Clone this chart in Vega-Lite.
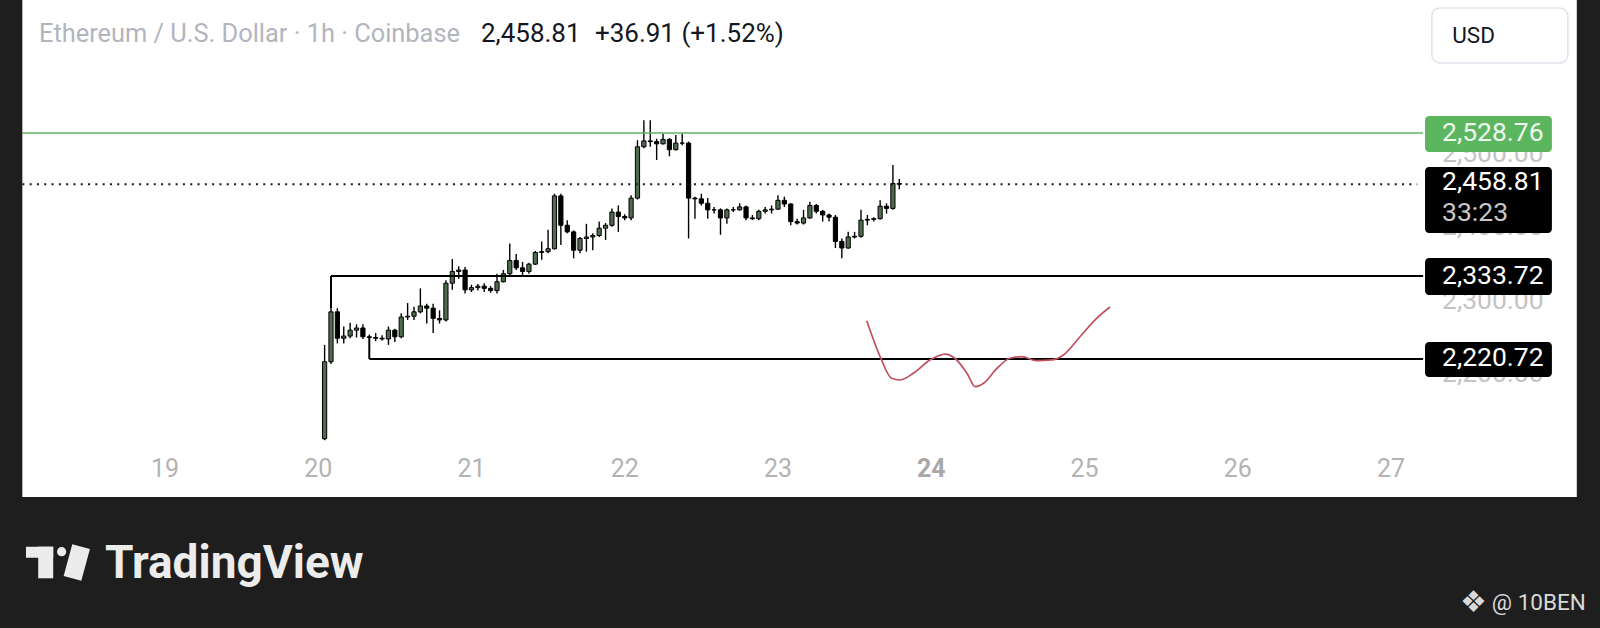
{
  "$schema": "https://vega.github.io/schema/vega-lite/v6.json",
  "description": "Ethereum / U.S. Dollar, 1h candles, Coinbase (TradingView snapshot)",
  "width": 1600,
  "height": 628,
  "autosize": {"type": "fit", "contains": "padding"},
  "padding": 0,
  "background": "#ffffff",
  "config": {"view": {"stroke": null, "fill": "#ffffff"}, "font": "Roboto"},
  "datasets": {
    "candles": [
      {"t": "2024-11-20T01:00:00Z", "o": 2112, "h": 2240, "l": 2110, "c": 2217},
      {"t": "2024-11-20T02:00:00Z", "o": 2217, "h": 2290, "l": 2214, "c": 2285},
      {"t": "2024-11-20T03:00:00Z", "o": 2285, "h": 2290, "l": 2242, "c": 2249},
      {"t": "2024-11-20T04:00:00Z", "o": 2249, "h": 2265, "l": 2242, "c": 2252},
      {"t": "2024-11-20T05:00:00Z", "o": 2252, "h": 2270, "l": 2249, "c": 2260},
      {"t": "2024-11-20T06:00:00Z", "o": 2260, "h": 2268, "l": 2250, "c": 2263},
      {"t": "2024-11-20T07:00:00Z", "o": 2263, "h": 2268, "l": 2248, "c": 2251},
      {"t": "2024-11-20T08:00:00Z", "o": 2251, "h": 2254, "l": 2249, "c": 2250},
      {"t": "2024-11-20T09:00:00Z", "o": 2250, "h": 2256, "l": 2245, "c": 2249},
      {"t": "2024-11-20T10:00:00Z", "o": 2249, "h": 2253, "l": 2246, "c": 2248},
      {"t": "2024-11-20T11:00:00Z", "o": 2248, "h": 2265, "l": 2240, "c": 2260},
      {"t": "2024-11-20T12:00:00Z", "o": 2260, "h": 2262, "l": 2244, "c": 2251},
      {"t": "2024-11-20T13:00:00Z", "o": 2251, "h": 2283, "l": 2249, "c": 2278},
      {"t": "2024-11-20T14:00:00Z", "o": 2278, "h": 2297, "l": 2274, "c": 2279},
      {"t": "2024-11-20T15:00:00Z", "o": 2279, "h": 2292, "l": 2274, "c": 2285},
      {"t": "2024-11-20T16:00:00Z", "o": 2285, "h": 2317, "l": 2283, "c": 2293},
      {"t": "2024-11-20T17:00:00Z", "o": 2293, "h": 2296, "l": 2269, "c": 2290},
      {"t": "2024-11-20T18:00:00Z", "o": 2290, "h": 2296, "l": 2256, "c": 2276},
      {"t": "2024-11-20T19:00:00Z", "o": 2276, "h": 2287, "l": 2269, "c": 2274},
      {"t": "2024-11-20T20:00:00Z", "o": 2274, "h": 2328, "l": 2272, "c": 2324},
      {"t": "2024-11-20T21:00:00Z", "o": 2324, "h": 2357, "l": 2315, "c": 2340},
      {"t": "2024-11-20T22:00:00Z", "o": 2340, "h": 2347, "l": 2330, "c": 2342},
      {"t": "2024-11-20T23:00:00Z", "o": 2342, "h": 2346, "l": 2310, "c": 2315},
      {"t": "2024-11-21T00:00:00Z", "o": 2315, "h": 2322, "l": 2312, "c": 2318},
      {"t": "2024-11-21T01:00:00Z", "o": 2318, "h": 2323, "l": 2314, "c": 2320},
      {"t": "2024-11-21T02:00:00Z", "o": 2320, "h": 2324, "l": 2312, "c": 2317},
      {"t": "2024-11-21T03:00:00Z", "o": 2317, "h": 2320, "l": 2311, "c": 2314},
      {"t": "2024-11-21T04:00:00Z", "o": 2314, "h": 2337, "l": 2310, "c": 2326},
      {"t": "2024-11-21T05:00:00Z", "o": 2326, "h": 2342, "l": 2325, "c": 2337},
      {"t": "2024-11-21T06:00:00Z", "o": 2337, "h": 2378, "l": 2335, "c": 2355},
      {"t": "2024-11-21T07:00:00Z", "o": 2355, "h": 2364, "l": 2342, "c": 2345},
      {"t": "2024-11-21T08:00:00Z", "o": 2345, "h": 2353, "l": 2335, "c": 2340},
      {"t": "2024-11-21T09:00:00Z", "o": 2340, "h": 2352, "l": 2337, "c": 2350},
      {"t": "2024-11-21T10:00:00Z", "o": 2350, "h": 2368, "l": 2349, "c": 2366},
      {"t": "2024-11-21T11:00:00Z", "o": 2366, "h": 2381, "l": 2356, "c": 2367},
      {"t": "2024-11-21T12:00:00Z", "o": 2367, "h": 2397, "l": 2365, "c": 2371},
      {"t": "2024-11-21T13:00:00Z", "o": 2371, "h": 2446, "l": 2370, "c": 2443},
      {"t": "2024-11-21T14:00:00Z", "o": 2443, "h": 2446, "l": 2376, "c": 2403},
      {"t": "2024-11-21T15:00:00Z", "o": 2403, "h": 2410, "l": 2392, "c": 2394},
      {"t": "2024-11-21T16:00:00Z", "o": 2394, "h": 2396, "l": 2358, "c": 2369},
      {"t": "2024-11-21T17:00:00Z", "o": 2369, "h": 2387, "l": 2365, "c": 2385},
      {"t": "2024-11-21T18:00:00Z", "o": 2385, "h": 2405, "l": 2367, "c": 2387},
      {"t": "2024-11-21T19:00:00Z", "o": 2387, "h": 2392, "l": 2369, "c": 2389},
      {"t": "2024-11-21T20:00:00Z", "o": 2389, "h": 2408, "l": 2387, "c": 2399},
      {"t": "2024-11-21T21:00:00Z", "o": 2399, "h": 2406, "l": 2383, "c": 2403},
      {"t": "2024-11-21T22:00:00Z", "o": 2403, "h": 2426, "l": 2401, "c": 2421},
      {"t": "2024-11-21T23:00:00Z", "o": 2421, "h": 2430, "l": 2394, "c": 2415},
      {"t": "2024-11-22T00:00:00Z", "o": 2415, "h": 2418, "l": 2410, "c": 2413},
      {"t": "2024-11-22T01:00:00Z", "o": 2413, "h": 2444, "l": 2410, "c": 2440},
      {"t": "2024-11-22T02:00:00Z", "o": 2440, "h": 2519, "l": 2438, "c": 2510},
      {"t": "2024-11-22T03:00:00Z", "o": 2510, "h": 2546, "l": 2508, "c": 2518},
      {"t": "2024-11-22T04:00:00Z", "o": 2518, "h": 2546, "l": 2510, "c": 2517},
      {"t": "2024-11-22T05:00:00Z", "o": 2517, "h": 2521, "l": 2492, "c": 2514},
      {"t": "2024-11-22T06:00:00Z", "o": 2514, "h": 2528, "l": 2513, "c": 2520},
      {"t": "2024-11-22T07:00:00Z", "o": 2520, "h": 2522, "l": 2497, "c": 2506},
      {"t": "2024-11-22T08:00:00Z", "o": 2506, "h": 2526, "l": 2505, "c": 2515},
      {"t": "2024-11-22T09:00:00Z", "o": 2515, "h": 2528, "l": 2512, "c": 2515},
      {"t": "2024-11-22T10:00:00Z", "o": 2515, "h": 2517, "l": 2385, "c": 2440},
      {"t": "2024-11-22T11:00:00Z", "o": 2440, "h": 2442, "l": 2412, "c": 2439},
      {"t": "2024-11-22T12:00:00Z", "o": 2439, "h": 2446, "l": 2430, "c": 2433},
      {"t": "2024-11-22T13:00:00Z", "o": 2433, "h": 2440, "l": 2412, "c": 2424},
      {"t": "2024-11-22T14:00:00Z", "o": 2424, "h": 2428, "l": 2419, "c": 2424},
      {"t": "2024-11-22T15:00:00Z", "o": 2424, "h": 2426, "l": 2390, "c": 2413},
      {"t": "2024-11-22T16:00:00Z", "o": 2413, "h": 2426, "l": 2405, "c": 2424},
      {"t": "2024-11-22T17:00:00Z", "o": 2424, "h": 2428, "l": 2421, "c": 2424},
      {"t": "2024-11-22T18:00:00Z", "o": 2424, "h": 2433, "l": 2423, "c": 2428},
      {"t": "2024-11-22T19:00:00Z", "o": 2428, "h": 2430, "l": 2410, "c": 2413},
      {"t": "2024-11-22T20:00:00Z", "o": 2413, "h": 2417, "l": 2410, "c": 2412},
      {"t": "2024-11-22T21:00:00Z", "o": 2412, "h": 2424, "l": 2410, "c": 2422},
      {"t": "2024-11-22T22:00:00Z", "o": 2422, "h": 2428, "l": 2419, "c": 2424},
      {"t": "2024-11-22T23:00:00Z", "o": 2424, "h": 2430, "l": 2419, "c": 2425},
      {"t": "2024-11-23T00:00:00Z", "o": 2425, "h": 2444, "l": 2424, "c": 2437},
      {"t": "2024-11-23T01:00:00Z", "o": 2437, "h": 2442, "l": 2428, "c": 2432},
      {"t": "2024-11-23T02:00:00Z", "o": 2432, "h": 2433, "l": 2403, "c": 2408},
      {"t": "2024-11-23T03:00:00Z", "o": 2408, "h": 2412, "l": 2404, "c": 2406},
      {"t": "2024-11-23T04:00:00Z", "o": 2406, "h": 2424, "l": 2404, "c": 2413},
      {"t": "2024-11-23T05:00:00Z", "o": 2413, "h": 2435, "l": 2412, "c": 2430},
      {"t": "2024-11-23T06:00:00Z", "o": 2430, "h": 2432, "l": 2419, "c": 2422},
      {"t": "2024-11-23T07:00:00Z", "o": 2422, "h": 2424, "l": 2408, "c": 2417},
      {"t": "2024-11-23T08:00:00Z", "o": 2417, "h": 2419, "l": 2408, "c": 2414},
      {"t": "2024-11-23T09:00:00Z", "o": 2414, "h": 2417, "l": 2372, "c": 2381},
      {"t": "2024-11-23T10:00:00Z", "o": 2381, "h": 2385, "l": 2358, "c": 2372},
      {"t": "2024-11-23T11:00:00Z", "o": 2372, "h": 2394, "l": 2371, "c": 2387},
      {"t": "2024-11-23T12:00:00Z", "o": 2387, "h": 2394, "l": 2385, "c": 2388},
      {"t": "2024-11-23T13:00:00Z", "o": 2388, "h": 2424, "l": 2386, "c": 2410},
      {"t": "2024-11-23T14:00:00Z", "o": 2410, "h": 2417, "l": 2403, "c": 2411},
      {"t": "2024-11-23T15:00:00Z", "o": 2411, "h": 2414, "l": 2408, "c": 2412},
      {"t": "2024-11-23T16:00:00Z", "o": 2412, "h": 2437, "l": 2411, "c": 2429},
      {"t": "2024-11-23T17:00:00Z", "o": 2429, "h": 2433, "l": 2419, "c": 2426},
      {"t": "2024-11-23T18:00:00Z", "o": 2426, "h": 2485, "l": 2424, "c": 2460},
      {"t": "2024-11-23T19:00:00Z", "o": 2460, "h": 2466, "l": 2452, "c": 2458.81}
    ],
    "box": [
      {"t1": "2024-11-20T02:00:00Z", "t2": "2024-11-27T05:02:00Z", "p1": 2333.72, "p2": 2333.72},
      {"t1": "2024-11-20T02:00:00Z", "t2": "2024-11-20T02:00:00Z", "p1": 2333.72, "p2": 2290},
      {"t1": "2024-11-20T08:00:00Z", "t2": "2024-11-27T05:02:00Z", "p1": 2220.72, "p2": 2220.72},
      {"t1": "2024-11-20T08:00:00Z", "t2": "2024-11-20T08:00:00Z", "p1": 2251, "p2": 2220.72}
    ],
    "sketch": [
      {"t": "2024-11-23T13:54:00Z", "p": 2272.9},
      {"t": "2024-11-23T16:00:00Z", "p": 2223.9},
      {"t": "2024-11-23T17:48:00Z", "p": 2194.4},
      {"t": "2024-11-23T19:06:00Z", "p": 2192.1},
      {"t": "2024-11-23T21:12:00Z", "p": 2201.2},
      {"t": "2024-11-23T23:48:00Z", "p": 2219.4},
      {"t": "2024-11-24T02:12:00Z", "p": 2227.5},
      {"t": "2024-11-24T03:42:00Z", "p": 2221.7},
      {"t": "2024-11-24T05:36:00Z", "p": 2201.2},
      {"t": "2024-11-24T06:54:00Z", "p": 2183.0},
      {"t": "2024-11-24T08:12:00Z", "p": 2187.6},
      {"t": "2024-11-24T10:18:00Z", "p": 2208.0},
      {"t": "2024-11-24T12:18:00Z", "p": 2221.7},
      {"t": "2024-11-24T14:12:00Z", "p": 2223.9},
      {"t": "2024-11-24T16:30:00Z", "p": 2218.4},
      {"t": "2024-11-24T18:54:00Z", "p": 2219.4},
      {"t": "2024-11-24T20:42:00Z", "p": 2226.2},
      {"t": "2024-11-24T23:18:00Z", "p": 2251.1},
      {"t": "2024-11-25T01:54:00Z", "p": 2276.2},
      {"t": "2024-11-25T04:00:00Z", "p": 2291.6}
    ],
    "days": [
      {"d": "2024-11-19T00:00:00Z", "label": "19"},
      {"d": "2024-11-20T00:00:00Z", "label": "20"},
      {"d": "2024-11-21T00:00:00Z", "label": "21"},
      {"d": "2024-11-22T00:00:00Z", "label": "22"},
      {"d": "2024-11-23T00:00:00Z", "label": "23"},
      {"d": "2024-11-24T00:00:00Z", "label": "24"},
      {"d": "2024-11-25T00:00:00Z", "label": "25"},
      {"d": "2024-11-26T00:00:00Z", "label": "26"},
      {"d": "2024-11-27T00:00:00Z", "label": "27"}
    ],
    "priceTicks": [
      {"p": 2200}, {"p": 2300}, {"p": 2400}, {"p": 2500}
    ],
    "tags": [
      {"label": "2,528.76", "price": 2528.76, "hi": 2551.9, "lo": 2502.9, "kind": "alert"},
      {"label": "2,458.81", "price": 2462.4, "hi": 2482.4, "lo": 2392.5, "kind": "last"},
      {"label": "2,333.72", "price": 2333.2, "hi": 2358.4, "lo": 2308.0, "kind": "line"},
      {"label": "2,220.72", "price": 2221.7, "hi": 2243.9, "lo": 2196.2, "kind": "line"}
    ]
  },
  "layer": [
    {
      "data": {"name": "candles"},
      "mark": {"type": "rule", "color": "#000000", "strokeWidth": 1.4},
      "encoding": {
        "x": {
          "field": "t",
          "type": "temporal",
          "axis": null,
          "scale": {
            "type": "utc",
            "padding": 0,
            "domain": [
              {"year": 2024, "month": 11, "date": 17, "hours": 22, "minutes": 10, "utc": true},
              {"year": 2024, "month": 11, "date": 28, "hours": 8, "minutes": 44, "utc": true}
            ]
          }
        },
        "y": {
          "field": "l",
          "type": "quantitative",
          "axis": null,
          "scale": {"domain": [1854.07, 2710.04], "nice": false, "zero": false, "padding": 0}
        },
        "y2": {"field": "h"}
      }
    },
    {
      "data": {"name": "candles"},
      "mark": {"type": "bar", "size": 4.2, "stroke": "#000000", "strokeWidth": 1},
      "encoding": {
        "x": {"field": "t", "type": "temporal", "axis": null},
        "y": {"field": "o", "type": "quantitative", "axis": null},
        "y2": {"field": "c"},
        "fill": {"condition": {"test": "datum.c >= datum.o", "value": "#4e6b4d"}, "value": "#000000"}
      }
    },
    {
      "data": {"values": [{}]},
      "mark": {"type": "rule", "color": "#5fb562", "strokeWidth": 1.6},
      "encoding": {
        "x": {"datum": {"year": 2024, "month": 11, "date": 18, "hours": 1, "minutes": 40, "utc": true}, "type": "temporal", "axis": null},
        "x2": {"datum": {"year": 2024, "month": 11, "date": 27, "hours": 5, "minutes": 2, "utc": true}},
        "y": {"datum": 2528.76, "type": "quantitative", "axis": null}
      }
    },
    {
      "data": {"values": [{}]},
      "mark": {"type": "rule", "color": "#131722", "strokeWidth": 2, "strokeDash": [2, 5.3]},
      "encoding": {
        "x": {"datum": {"year": 2024, "month": 11, "date": 18, "hours": 1, "minutes": 40, "utc": true}, "type": "temporal", "axis": null},
        "x2": {"datum": {"year": 2024, "month": 11, "date": 27, "hours": 4, "minutes": 6, "utc": true}},
        "y": {"datum": 2458.81, "type": "quantitative", "axis": null}
      }
    },
    {
      "data": {"name": "box"},
      "mark": {"type": "rule", "color": "#000000", "strokeWidth": 2},
      "encoding": {
        "x": {"field": "t1", "type": "temporal", "axis": null},
        "x2": {"field": "t2"},
        "y": {"field": "p1", "type": "quantitative", "axis": null},
        "y2": {"field": "p2"}
      }
    },
    {
      "data": {"name": "sketch"},
      "mark": {"type": "line", "color": "#c0505f", "strokeWidth": 1.7, "interpolate": "monotone"},
      "encoding": {
        "x": {"field": "t", "type": "temporal", "axis": null},
        "y": {"field": "p", "type": "quantitative", "axis": null}
      }
    },
    {
      "data": {"name": "days"},
      "transform": [{"filter": "datum.label != '24'"}],
      "mark": {"type": "text", "align": "center", "baseline": "middle", "fontSize": 25, "font": "Roboto", "fill": "#b3b3b3"},
      "encoding": {
        "x": {"field": "d", "type": "temporal", "axis": null},
        "y": {"datum": 2070.8, "type": "quantitative", "axis": null},
        "text": {"field": "label"}
      }
    },
    {
      "data": {"name": "days"},
      "transform": [{"filter": "datum.label == '24'"}],
      "mark": {"type": "text", "align": "center", "baseline": "middle", "fontSize": 25, "font": "Roboto", "fontWeight": "bold", "fill": "#a8a8a8"},
      "encoding": {
        "x": {"field": "d", "type": "temporal", "axis": null},
        "y": {"datum": 2070.8, "type": "quantitative", "axis": null},
        "text": {"field": "label"}
      }
    },
    {
      "data": {"name": "priceTicks"},
      "mark": {"type": "text", "align": "left", "baseline": "middle", "fontSize": 26.5, "font": "Roboto", "fill": "#c4c4c4"},
      "encoding": {
        "x": {"datum": {"year": 2024, "month": 11, "date": 27, "hours": 8, "minutes": 0, "utc": true}, "type": "temporal", "axis": null},
        "y": {"field": "p", "type": "quantitative", "axis": null},
        "text": {"field": "p", "type": "quantitative", "format": ",.2f"}
      }
    },
    {
      "data": {"values": [{}]},
      "mark": {"type": "rect", "fill": "#1e1e1e"},
      "encoding": {
        "x": {"datum": {"year": 2024, "month": 11, "date": 17, "hours": 22, "minutes": 10, "utc": true}, "type": "temporal", "axis": null},
        "x2": {"datum": {"year": 2024, "month": 11, "date": 18, "hours": 1, "minutes": 40, "utc": true}},
        "y": {"datum": 1854.07, "type": "quantitative", "axis": null},
        "y2": {"datum": 2710.04}
      }
    },
    {
      "data": {"values": [{}]},
      "mark": {"type": "rect", "fill": "#1e1e1e"},
      "encoding": {
        "x": {"datum": {"year": 2024, "month": 11, "date": 28, "hours": 5, "minutes": 6, "utc": true}, "type": "temporal", "axis": null},
        "x2": {"datum": {"year": 2024, "month": 11, "date": 28, "hours": 8, "minutes": 44, "utc": true}},
        "y": {"datum": 1854.07, "type": "quantitative", "axis": null},
        "y2": {"datum": 2710.04}
      }
    },
    {
      "data": {"values": [{}]},
      "mark": {"type": "rect", "fill": "#1e1e1e"},
      "encoding": {
        "x": {"datum": {"year": 2024, "month": 11, "date": 17, "hours": 22, "minutes": 10, "utc": true}, "type": "temporal", "axis": null},
        "x2": {"datum": {"year": 2024, "month": 11, "date": 28, "hours": 8, "minutes": 44, "utc": true}},
        "y": {"datum": 1854.07, "type": "quantitative", "axis": null},
        "y2": {"datum": 2032.6}
      }
    },
    {
      "data": {"name": "tags"},
      "mark": {"type": "rect", "cornerRadius": 4},
      "encoding": {
        "x": {"datum": {"year": 2024, "month": 11, "date": 27, "hours": 5, "minutes": 20, "utc": true}, "type": "temporal", "axis": null},
        "x2": {"datum": {"year": 2024, "month": 11, "date": 28, "hours": 1, "minutes": 12, "utc": true}},
        "y": {"field": "hi", "type": "quantitative", "axis": null},
        "y2": {"field": "lo"},
        "fill": {"condition": {"test": "datum.kind == 'alert'", "value": "#5cb55f"}, "value": "#000000"}
      }
    },
    {
      "data": {"name": "tags"},
      "mark": {"type": "text", "align": "left", "baseline": "middle", "fontSize": 26.5, "font": "Roboto"},
      "encoding": {
        "x": {"datum": {"year": 2024, "month": 11, "date": 27, "hours": 8, "minutes": 0, "utc": true}, "type": "temporal", "axis": null},
        "y": {"field": "price", "type": "quantitative", "axis": null},
        "text": {"field": "label"},
        "fill": {"condition": {"test": "datum.kind == 'alert'", "value": "#eef8ee"}, "value": "#ffffff"}
      }
    },
    {
      "data": {"values": [{}]},
      "mark": {"type": "text", "align": "left", "baseline": "middle", "fontSize": 26.5, "font": "Roboto", "fill": "#c8c8c8", "text": "33:23"},
      "encoding": {
        "x": {"datum": {"year": 2024, "month": 11, "date": 27, "hours": 8, "minutes": 0, "utc": true}, "type": "temporal", "axis": null},
        "y": {"datum": 2420.4, "type": "quantitative", "axis": null}
      }
    },
    {
      "data": {"values": [{}]},
      "mark": {"type": "text", "align": "left", "baseline": "alphabetic", "fontSize": 25.4, "font": "Roboto", "fill": "#b2b5be", "text": "Ethereum / U.S. Dollar · 1h · Coinbase"},
      "encoding": {
        "x": {"datum": {"year": 2024, "month": 11, "date": 18, "hours": 4, "minutes": 16, "utc": true}, "type": "temporal", "axis": null},
        "y": {"datum": 2653.2, "type": "quantitative", "axis": null}
      }
    },
    {
      "data": {"values": [{}]},
      "mark": {"type": "text", "align": "left", "baseline": "alphabetic", "fontSize": 26, "font": "Roboto", "fill": "#131722", "text": "2,458.81"},
      "encoding": {
        "x": {"datum": {"year": 2024, "month": 11, "date": 21, "hours": 1, "minutes": 29, "utc": true}, "type": "temporal", "axis": null},
        "y": {"datum": 2653.2, "type": "quantitative", "axis": null}
      }
    },
    {
      "data": {"values": [{}]},
      "mark": {"type": "text", "align": "left", "baseline": "alphabetic", "fontSize": 26, "font": "Roboto", "fill": "#131722", "text": "+36.91 (+1.52%)"},
      "encoding": {
        "x": {"datum": {"year": 2024, "month": 11, "date": 21, "hours": 19, "minutes": 20, "utc": true}, "type": "temporal", "axis": null},
        "y": {"datum": 2653.2, "type": "quantitative", "axis": null}
      }
    },
    {
      "data": {"values": [{}]},
      "mark": {"type": "rect", "fill": "#ffffff", "stroke": "#e0e3eb", "strokeWidth": 1.5, "cornerRadius": 8},
      "encoding": {
        "x": {"datum": {"year": 2024, "month": 11, "date": 27, "hours": 6, "minutes": 24, "utc": true}, "type": "temporal", "axis": null},
        "x2": {"datum": {"year": 2024, "month": 11, "date": 28, "hours": 3, "minutes": 42, "utc": true}},
        "y": {"datum": 2699.1, "type": "quantitative", "axis": null},
        "y2": {"datum": 2624.2}
      }
    },
    {
      "data": {"values": [{}]},
      "mark": {"type": "text", "align": "left", "baseline": "middle", "fontSize": 22.5, "font": "Roboto", "fill": "#131722", "text": "USD"},
      "encoding": {
        "x": {"datum": {"year": 2024, "month": 11, "date": 27, "hours": 9, "minutes": 36, "utc": true}, "type": "temporal", "axis": null},
        "y": {"datum": 2661.4, "type": "quantitative", "axis": null}
      }
    },
    {
      "data": {"values": [{}]},
      "mark": {"type": "rect", "fill": "#ececec"},
      "encoding": {
        "x": {"datum": {"year": 2024, "month": 11, "date": 18, "hours": 2, "minutes": 14, "utc": true}, "type": "temporal", "axis": null},
        "x2": {"datum": {"year": 2024, "month": 11, "date": 18, "hours": 6, "minutes": 30, "utc": true}},
        "y": {"datum": 1964.9, "type": "quantitative", "axis": null},
        "y2": {"datum": 1949.9}
      }
    },
    {
      "data": {"values": [{}]},
      "mark": {"type": "rect", "fill": "#ececec"},
      "encoding": {
        "x": {"datum": {"year": 2024, "month": 11, "date": 18, "hours": 4, "minutes": 9, "utc": true}, "type": "temporal", "axis": null},
        "x2": {"datum": {"year": 2024, "month": 11, "date": 18, "hours": 6, "minutes": 30, "utc": true}},
        "y": {"datum": 1964.9, "type": "quantitative", "axis": null},
        "y2": {"datum": 1921.8}
      }
    },
    {
      "data": {"values": [{}]},
      "mark": {"type": "point", "filled": true, "size": 85, "color": "#ececec", "opacity": 1},
      "encoding": {
        "x": {"datum": {"year": 2024, "month": 11, "date": 18, "hours": 7, "minutes": 49, "utc": true}, "type": "temporal", "axis": null},
        "y": {"datum": 1958.1, "type": "quantitative", "axis": null}
      }
    },
    {
      "data": {"values": [{}]},
      "mark": {"type": "rule", "color": "#ececec", "strokeWidth": 18.3, "strokeCap": "butt"},
      "encoding": {
        "x": {"datum": {"year": 2024, "month": 11, "date": 18, "hours": 10, "minutes": 52, "utc": true}, "type": "temporal", "axis": null},
        "x2": {"datum": {"year": 2024, "month": 11, "date": 18, "hours": 9, "minutes": 31, "utc": true}},
        "y": {"datum": 1964.9, "type": "quantitative", "axis": null},
        "y2": {"datum": 1921.8}
      }
    },
    {
      "data": {"values": [{}]},
      "mark": {"type": "text", "align": "left", "baseline": "alphabetic", "fontSize": 46, "font": "Roboto", "fontWeight": "bold", "fill": "#ececec", "text": "TradingView"},
      "encoding": {
        "x": {"datum": {"year": 2024, "month": 11, "date": 18, "hours": 14, "minutes": 36, "utc": true}, "type": "temporal", "axis": null},
        "y": {"datum": 1921.8, "type": "quantitative", "axis": null}
      }
    },
    {
      "data": {"values": [{}]},
      "mark": {"type": "text", "align": "center", "baseline": "middle", "fontSize": 30, "font": "DejaVu Sans", "fill": "#d9d9d9", "text": "❖"},
      "encoding": {
        "x": {"datum": {"year": 2024, "month": 11, "date": 27, "hours": 12, "minutes": 54, "utc": true}, "type": "temporal", "axis": null},
        "y": {"datum": 1888.2, "type": "quantitative", "axis": null}
      }
    },
    {
      "data": {"values": [{}]},
      "mark": {"type": "text", "align": "left", "baseline": "alphabetic", "fontSize": 22.5, "font": "Roboto", "fill": "#d9d9d9", "text": "@ 10BEN"},
      "encoding": {
        "x": {"datum": {"year": 2024, "month": 11, "date": 27, "hours": 15, "minutes": 48, "utc": true}, "type": "temporal", "axis": null},
        "y": {"datum": 1878.6, "type": "quantitative", "axis": null}
      }
    }
  ]
}
